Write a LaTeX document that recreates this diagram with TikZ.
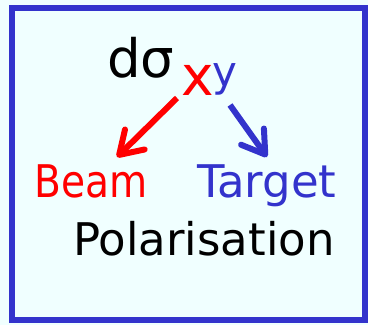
\documentclass[tikz,border=0pt]{standalone}
\usepackage{fontspec}
\setmainfont{DejaVu Sans}
\usetikzlibrary{arrows.meta}
\definecolor{bg}{HTML}{F0FFFF}
\definecolor{myblue}{HTML}{3333CC}
\definecolor{myred}{HTML}{FF0000}
\tikzset{
  lbl/.style={inner sep=0pt, anchor=base west},
  arr/.style={line width=6bp, -{Straight Barb[length=22bp,width=28bp,round]}},
}
\begin{document}
\begin{tikzpicture}[x=1bp,y=-1bp]
\fill[bg] (0,0) rectangle (368,325);
\useasboundingbox (0,0) rectangle (368,325);
\draw[myblue, line width=6bp] (12,8) rectangle (365,320);
\node[lbl, font=\fontsize{53bp}{60bp}\selectfont] (ds) at (107,77) {dσ};
\node[lbl, text=myred, font=\fontsize{55bp}{60bp}\selectfont] (x) at (181,95) {x};
\node[lbl, text=myblue, font=\fontsize{42bp}{48bp}\selectfont] (y) at (212,86) {y};
\node[lbl, text=myred, font=\fontsize{45bp}{54bp}\selectfont] (beam) at (34,197) {\scalebox{0.87}[1]{Beam}};
\node[lbl, text=myblue, font=\fontsize{45bp}{54bp}\selectfont] (target) at (197,197) {Target};
\node[lbl, font=\fontsize{45bp}{54bp}\selectfont] (pol) at (73,255) {Polarisation};
\coordinate (rs) at (177,98);
\coordinate (re) at (117,157);
\coordinate (bs) at (230,105);
\coordinate (be) at (267,157);
\draw[arr, myred] (rs) -- (re);
\draw[arr, myblue] (bs) -- (be);
\end{tikzpicture}
\end{document}
